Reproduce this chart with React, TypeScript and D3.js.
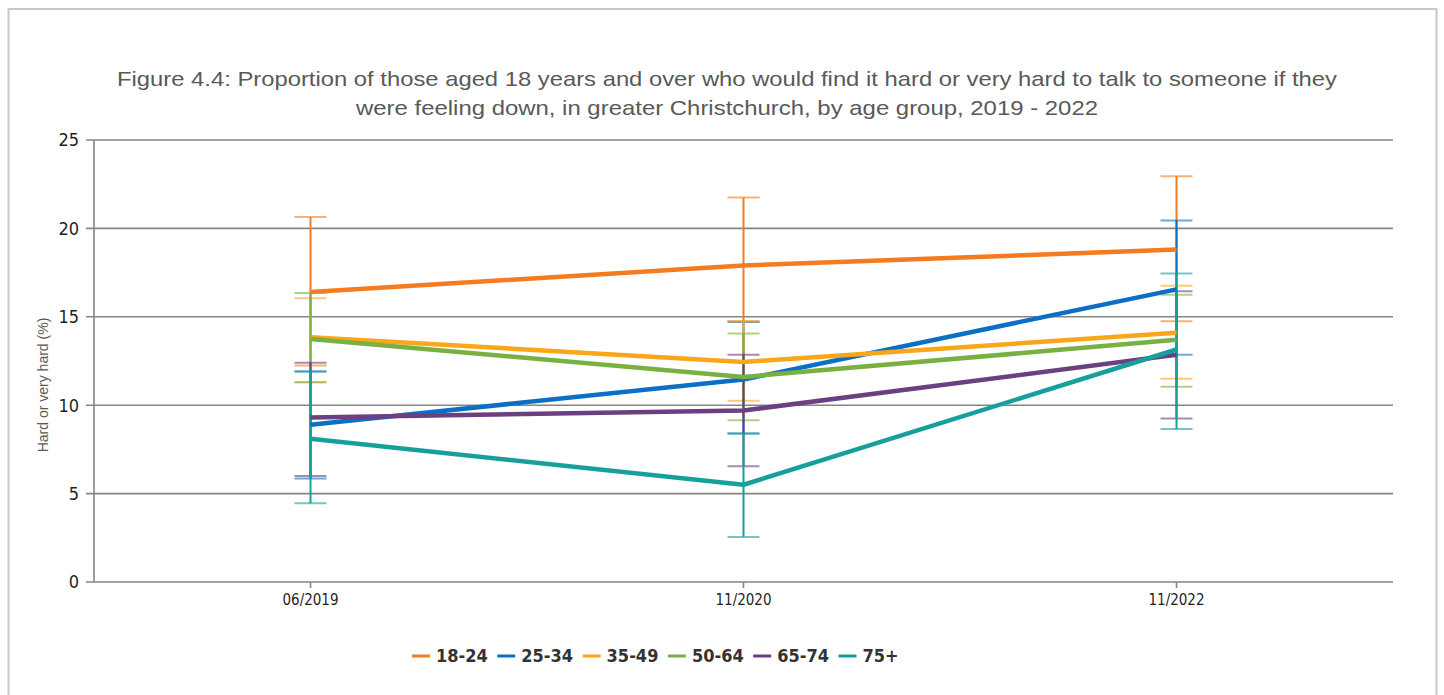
import * as d3 from "d3";

const periods = ["06/2019", "11/2020", "11/2022"];
const groups = ["18-24", "25-34", "35-49", "50-64", "65-74", "75+"];
const colors = ["#f47b20", "#0b6fc6", "#f9a61a", "#78b041", "#6b3f80", "#17a09b"];

// point estimates per age group, one value per period
const estimates = [
  [16.4, 17.9, 18.8],
  [8.9, 11.45, 16.55],
  [13.85, 12.45, 14.1],
  [13.75, 11.6, 13.7],
  [9.3, 9.7, 12.85],
  [8.1, 5.5, 13.15],
];
// lower and upper confidence limits
const lower = [
  [12.25, 14.75, 14.75],
  [5.85, 8.4, 12.85],
  [11.3, 10.25, 11.5],
  [11.3, 9.15, 11.05],
  [6.0, 6.55, 9.25],
  [4.45, 2.55, 8.65],
];
const upper = [
  [20.65, 21.75, 22.95],
  [11.9, 14.7, 20.45],
  [16.05, 14.75, 16.75],
  [16.35, 14.05, 16.25],
  [12.4, 12.85, 16.45],
  [11.9, 8.4, 17.45],
];
const yTicks = [0, 5, 10, 15, 20, 25];

const W = 1444;
const H = 695;
const plot = { left: 94, right: 1393, top: 140, bottom: 582 };
const tickFont = "'DejaVu Sans Condensed', 'Liberation Sans', sans-serif";

export default function App() {
  const x = d3
    .scaleBand<string>()
    .domain(periods)
    .range([plot.left, plot.right]);
  const cx = (p: string) => (x(p) || 0) + x.bandwidth() / 2;

  const y = d3.scaleLinear().domain([0, 25]).range([plot.bottom, plot.top]);

  const line = d3
    .line<number>()
    .x((_, i) => cx(periods[i]))
    .y((d) => y(d));

  const capHalf = 16;

  return (
    <svg
      width={W}
      height={H}
      style={{ position: "absolute", left: 0, top: 0, background: "#fff" }}
    >
      <rect x={8.5} y={9} width={1428} height={H + 20} fill="#fff" stroke="#c9c9c9" strokeWidth={2} />

      {/* Title */}
      <text
        x={727}
        y={86}
        textAnchor="middle"
        fontSize={21}
        fontFamily="'Liberation Sans', Arial, sans-serif"
        fill="#595959"
      >
        <tspan x={727} dy={0} textLength={1220} lengthAdjust="spacingAndGlyphs">
          Figure 4.4: Proportion of those aged 18 years and over who would find it hard or very hard to talk to someone if they
        </tspan>
        <tspan x={727} dy={29} textLength={742} lengthAdjust="spacingAndGlyphs">
          were feeling down, in greater Christchurch, by age group, 2019 - 2022
        </tspan>
      </text>

      {/* Grid and y axis */}
      {yTicks.map((t) => (
        <g key={t}>
          <line x1={plot.left - 8} x2={plot.right} y1={y(t)} y2={y(t)} stroke="#858585" strokeWidth={1.6} />
          <text
            x={plot.left - 15}
            y={y(t)}
            dy="0.36em"
            textAnchor="end"
            fontSize={18}
            fontFamily={tickFont}
            fill="#1f1f1f"
          >
            {t}
          </text>
        </g>
      ))}
      <line x1={plot.left} x2={plot.left} y1={plot.top} y2={plot.bottom} stroke="#858585" strokeWidth={1.6} />
      <text
        transform={`translate(48, 385) rotate(-90)`}
        textAnchor="middle"
        fontSize={14}
        fontFamily="'Liberation Sans', Arial, sans-serif"
        fill="#595959"
      >
        Hard or very hard (%)
      </text>

      {/* X axis ticks */}
      {periods.map((p) => (
        <g key={p}>
          <line x1={cx(p)} x2={cx(p)} y1={plot.bottom} y2={plot.bottom + 6} stroke="#858585" strokeWidth={1.6} />
          <text
            x={cx(p)}
            y={plot.bottom + 23}
            textAnchor="middle"
            fontSize={15}
            fontFamily={tickFont}
            fill="#1f1f1f"
          >
            {p}
          </text>
        </g>
      ))}

      {/* Error bars */}
      {groups.map((g, gi) => (
        <g key={`err-${g}`}>
          {periods.map((p, pi) => {
            const px = cx(p);
            const lo = y(lower[gi][pi]);
            const hi = y(upper[gi][pi]);
            return (
              <g key={p}>
                <line x1={px} x2={px} y1={hi} y2={lo} stroke={colors[gi]} strokeWidth={2} />
                <line x1={px - capHalf} x2={px + capHalf} y1={hi} y2={hi} stroke={colors[gi]} strokeOpacity={0.6} strokeWidth={2} />
                <line x1={px - capHalf} x2={px + capHalf} y1={lo} y2={lo} stroke={colors[gi]} strokeOpacity={0.6} strokeWidth={2} />
              </g>
            );
          })}
        </g>
      ))}

      {/* Series lines */}
      {groups.map((g, gi) => (
        <path
          key={`line-${g}`}
          d={line(estimates[gi]) || ""}
          fill="none"
          stroke={colors[gi]}
          strokeWidth={4.5}
          strokeLinejoin="round"
        />
      ))}

      {/* Legend */}
      {groups.map((g, gi) => {
        const lx = 412 + gi * 85.3;
        return (
          <g key={`leg-${g}`} transform={`translate(${lx}, 656)`}>
            <line x1={0} x2={18} y1={0} y2={0} stroke={colors[gi]} strokeWidth={3} />
            <text
              x={24}
              y={0}
              dy="0.36em"
              fontSize={18}
              fontWeight="bold"
              fontFamily={tickFont}
              fill="#333"
            >
              {g}
            </text>
          </g>
        );
      })}
    </svg>
  );
}
